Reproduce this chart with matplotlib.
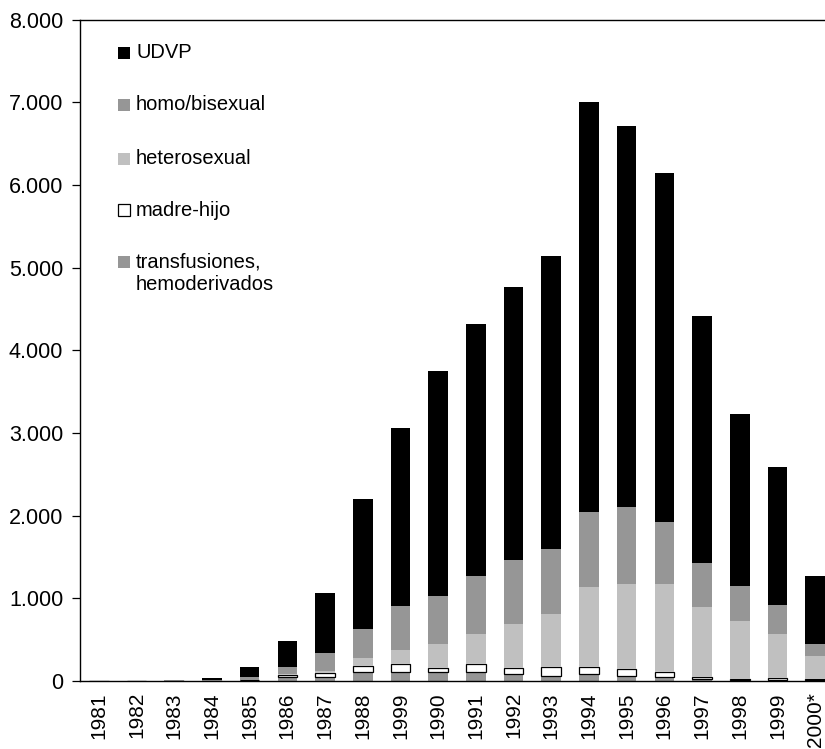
import matplotlib
matplotlib.use("Agg")
import matplotlib.pyplot as plt
from matplotlib.patches import Rectangle
import numpy as np

# casos de sida por año y categoría de transmisión
years = ["1981", "1982", "1983", "1984", "1985", "1986", "1987", "1988", "1999", "1990",
         "1991", "1992", "1993", "1994", "1995", "1996", "1997", "1998", "1999", "2000*"]
transf = [0, 0, 0, 2, 7, 44, 52, 112, 112, 112, 112, 88, 64, 88, 64, 52, 28, 12, 16, 8]
madre = [0, 0, 0, 0, 3, 32, 40, 73, 94, 49, 94, 73, 105, 81, 81, 57, 24, 16, 24, 12]
hetero = [0, 0, 0, 0, 3, 10, 29, 93, 169, 286, 362, 528, 641, 968, 1028, 1064, 843, 698, 528, 282]
homo = [1, 2, 8, 6, 35, 83, 218, 351, 532, 581, 702, 774, 786, 906, 931, 750, 532, 423, 351, 145]
udvp = [0, 1, 3, 28, 121, 314, 725, 1572, 2152, 2721, 3047, 3301, 3543, 4958, 4607, 4220, 2987, 2080, 1669, 823]

yticks = [0, 1000, 2000, 3000, 4000, 5000, 6000, 7000, 8000]
ylabels = ["0", "1.000", "2.000", "3.000", "4.000", "5.000", "6.000", "7.000", "8.000"]

plt.rcParams['font.family'] = ['Liberation Sans', 'DejaVu Sans']

W, H = 825, 749
fig = plt.figure(figsize=(W / 100, H / 100), dpi=100)
# el gráfico original está recortado por la derecha
ax = fig.add_axes([80 / W, 68 / H, 754 / W, 661.5 / H])

x = np.arange(len(years))
w = 0.52
series = [
    (transf, "#969696", "none", "transfusiones,"),
    (madre, "white", "black", "madre-hijo"),
    (hetero, "#c0c0c0", "none", "heterosexual"),
    (homo, "#969696", "none", "homo/bisexual"),
    (udvp, "black", "none", "UDVP"),
]
bottom = np.zeros(len(years))
for vals, col, ec, lab in series:
    ax.bar(x, vals, w, bottom=bottom, color=col, edgecolor=ec, linewidth=0.9 if ec != "none" else 0)
    bottom += np.array(vals)

ax.set_xlim(-0.5, len(years) - 0.5)
ax.set_ylim(0, 8000)
ax.set_yticks(yticks)
ax.set_yticklabels(ylabels, fontsize=15.5)
ax.set_xticks(x)
ax.set_xticklabels(years, rotation=90, fontsize=15)
ax.tick_params(axis="x", length=0, pad=8)
ax.tick_params(axis="y", length=6, width=0.9, pad=6)
for s in ax.spines.values():
    s.set_linewidth(1.0)
    s.set_color("black")

# leyenda dibujada a mano (cuadrados + texto)
leg = [("UDVP", "black", "none", 53),
       ("homo/bisexual", "#969696", "none", 105),
       ("heterosexual", "#c0c0c0", "none", 159),
       ("madre-hijo", "white", "black", 210),
       ("transfusiones,", "#969696", "none", 262)]
for lab, col, ec, ypx in leg:
    yf = (681 - ypx) / 661.5
    ax.add_patch(Rectangle(((118 - 80) / 754, yf - 6 / 661.5), 12 / 754, 12 / 661.5,
                           transform=ax.transAxes, facecolor=col, edgecolor=ec, linewidth=0.9))
    ax.text((136 - 80) / 754, yf, lab, transform=ax.transAxes, fontsize=14.5, va="center", ha="left")
ax.text((136 - 80) / 754, (681 - 285) / 661.5, "hemoderivados", transform=ax.transAxes,
        fontsize=14.5, va="center", ha="left")

fig.savefig("out.png", dpi=100)
